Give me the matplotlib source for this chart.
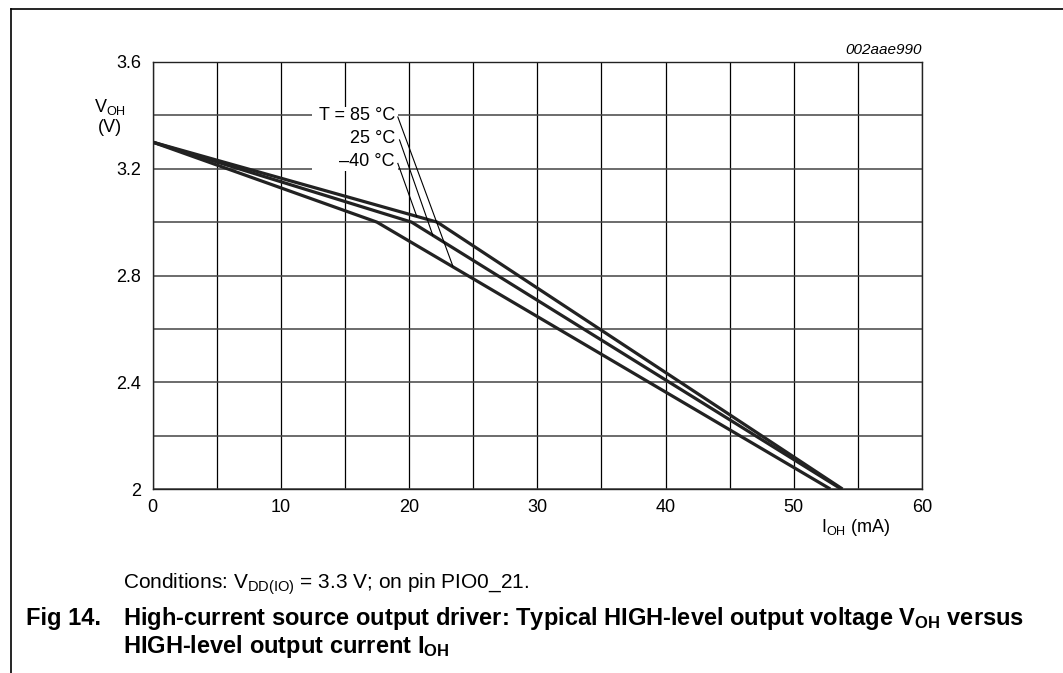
import matplotlib
matplotlib.use("Agg")
import matplotlib.pyplot as plt
from matplotlib.lines import Line2D
from matplotlib.patches import Rectangle

plt.rcParams['font.family'] = ['Liberation Sans', 'DejaVu Sans']
plt.rcParams['mathtext.fontset'] = 'custom'
plt.rcParams['mathtext.rm'] = 'Liberation Sans'
plt.rcParams['mathtext.it'] = 'Liberation Sans:italic'
plt.rcParams['mathtext.bf'] = 'Liberation Sans:bold'

# ---- data ----
i_85 = [0, 17.5, 52.85]
v_85 = [3.3, 3.0, 2.0]
i_25 = [0, 20.2, 53.7]
v_25 = [3.3, 3.0, 2.0]
i_m40 = [0, 22.2, 53.8]
v_m40 = [3.3, 3.0, 2.0]

temp_labels = ["T = 85 \u00b0C", "25 \u00b0C", "\u201340 \u00b0C"]
label_y = [3.401, 3.315, 3.229]
leader_start = [(19.13, 3.394), (19.26, 3.308), (19.13, 3.220)]
leader_end = [(23.42, 2.835), (21.86, 2.950), (20.6, 3.022)]

x_ticks = [0, 10, 20, 30, 40, 50, 60]
y_ticks = [2.0, 2.4, 2.8, 3.2, 3.6]
y_tick_labels = ["2", "2.4", "2.8", "3.2", "3.6"]
x_grid = [0, 5, 10, 15, 20, 25, 30, 35, 40, 45, 50, 55, 60]
y_grid = [2.0, 2.2, 2.4, 2.6, 2.8, 3.0, 3.2, 3.4, 3.6]

W, H = 1063, 673
fig = plt.figure(figsize=(W / 100, H / 100), dpi=100)
L, R, T, B = 152.5, 922, 62, 489
ax = fig.add_axes([L / W, 1 - B / H, (R - L) / W, (B - T) / H])
ax.set_xlim(0, 60)
ax.set_ylim(2.0, 3.6)

for xg in x_grid:
    ax.axvline(xg, color='black', lw=0.9, zorder=0.5)
for yg in y_grid:
    ax.axhline(yg, color='#444444', lw=1.1, zorder=0.5)

for s in ax.spines.values():
    s.set_linewidth(1.0)
    s.set_color('#222222')

FS = 13
ax.set_xticks(x_ticks)
ax.set_xticklabels([str(t) for t in x_ticks])
ax.set_yticks(y_ticks)
ax.set_yticklabels(y_tick_labels)
ax.tick_params(length=0, labelsize=FS, pad=7)
ax.tick_params(axis='y', pad=8)

for xs, ys in [(i_85, v_85), (i_25, v_25), (i_m40, v_m40)]:
    ax.plot(xs, ys, color='#222222', lw=2.3, solid_capstyle='butt', zorder=2)

# white mask behind temperature labels
ax.add_patch(Rectangle((12.45, 3.193), 6.7, 0.237, facecolor='white',
                       edgecolor='none', zorder=1.5))
for txt, yy in zip(temp_labels, label_y):
    ax.text(18.9, yy, txt, ha='right', va='center', fontsize=FS, zorder=3)
for (x0, y0), (x1, y1) in zip(leader_start, leader_end):
    ax.plot([x0, x1], [y0, y1], color='black', lw=0.8, zorder=3)

# axis labels
fig.text(110 / W, 1 - 107 / H, r'V$_{\mathrm{OH}}$', ha='center', va='center', fontsize=FS)
fig.text(110 / W, 1 - 128 / H, '(V)', ha='center', va='center', fontsize=FS)
fig.text(821 / W, 1 - 528 / H, r'I$_{\mathrm{OH}}$ (mA)', ha='left', va='center', fontsize=FS)
fig.text(922 / W, 1 - 50 / H, '002aae990', ha='right', va='center', fontsize=11,
         style='italic')

# caption texts
fig.text(123 / W, 1 - 584 / H, r'Conditions: V$_{\mathrm{DD(IO)}}$ = 3.3 V; on pin PIO0_21.',
         ha='left', va='center', fontsize=15)
TFS = 17
fig.text(26 / W, 1 - 619 / H, 'Fig 14.', ha='left', va='center', fontsize=TFS,
         fontweight='bold')
fig.text(123 / W, 1 - 619 / H,
         r'High-current source output driver: Typical HIGH-level output voltage V$_{\mathbf{OH}}$ versus',
         ha='left', va='center', fontsize=TFS, fontweight='bold')
fig.text(123 / W, 1 - 646 / H, r'HIGH-level output current I$_{\mathbf{OH}}$',
         ha='left', va='center', fontsize=TFS, fontweight='bold')

# outer frame (top and left)
fig.add_artist(Line2D([10.7 / W, 1.0], [1 - 9.3 / H, 1 - 9.3 / H], transform=fig.transFigure,
                      color='black', lw=1.2))
fig.add_artist(Line2D([10.7 / W, 10.7 / W], [1 - 9.3 / H, 0.0], transform=fig.transFigure,
                      color='black', lw=1.2))

fig.savefig('out.png', dpi=100)
